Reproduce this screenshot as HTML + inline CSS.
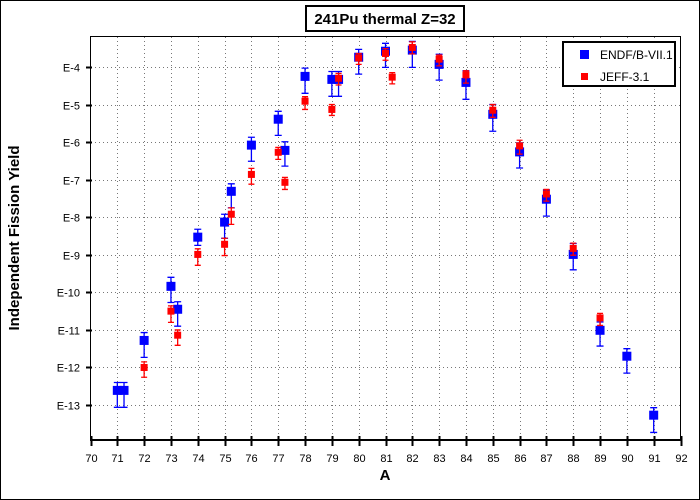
<!DOCTYPE html>
<html><head><meta charset="utf-8"><style>
html,body{margin:0;padding:0;background:#fff}
svg{display:block;font-family:"Liberation Sans",sans-serif}
</style></head><body>
<svg id="chart" width="700" height="500" viewBox="0 0 700 500" xmlns="http://www.w3.org/2000/svg">
<rect x="0.5" y="0.5" width="699" height="499" fill="#fff" stroke="#000"/>
<g id="grid"></g>
<rect x="90.5" y="36.5" width="590" height="403.5" fill="none" stroke="#000" stroke-width="1"/>
<g id="axes"></g>
<g id="marks"></g>
<rect x="306" y="6" width="158" height="25" fill="#fff" stroke="#000" stroke-width="2"/>
<text x="385" y="24" text-anchor="middle" font-size="15" font-weight="bold">241Pu thermal Z=32</text>
<text x="385" y="480" text-anchor="middle" font-size="15" font-weight="bold">A</text>
<text transform="translate(19,238) rotate(-90)" text-anchor="middle" font-size="15" font-weight="bold">Independent Fission Yield</text>
<g>
<rect x="563" y="42" width="112" height="44" fill="#fff" stroke="#000" stroke-width="2"/>
<rect x="580" y="50" width="9" height="9" fill="#0000ff"/>
<text x="600" y="59" font-size="12">ENDF/B-VII.1</text>
<rect x="581" y="73" width="7" height="7" fill="#ff0000"/>
<text x="600" y="81" font-size="12">JEFF-3.1</text>
</g>
</svg>
<script>
const endfA   = [71,71.25,72,73,73.25,74,75,75.25,76,77,77.25,78,79,79.25,80,81,82,83,84,85,86,87,88,89,90,91];
const endfLog = [-12.61,-12.61,-11.28,-9.84,-10.45,-8.53,-8.13,-7.31,-6.08,-5.39,-6.22,-4.25,-4.33,-4.33,-3.74,-3.58,-3.55,-3.93,-4.41,-5.26,-6.26,-7.52,-8.99,-11.01,-11.70,-13.27];
const endfHi  = [-12.40,-12.40,-11.07,-9.60,-10.25,-8.32,-7.92,-7.11,-5.87,-5.18,-5.99,-4.03,-4.12,-4.12,-3.53,-3.37,-3.32,-3.66,-4.10,-5.00,-6.02,-7.27,-8.70,-10.79,-11.50,-13.07];
const endfLo  = [-13.06,-13.06,-11.73,-10.27,-10.90,-8.75,-8.56,-7.75,-6.51,-5.82,-6.64,-4.70,-4.78,-4.78,-4.19,-4.01,-4.01,-4.35,-4.86,-5.71,-6.69,-7.97,-9.40,-11.43,-12.15,-13.73];
const jeffA   = [72,73,73.25,74,75,75.25,76,77,77.25,78,79,79.25,80,81,81.25,82,83,84,85,86,87,88,89];
const jeffLog = [-12.00,-10.50,-11.14,-8.99,-8.72,-7.92,-6.86,-6.27,-7.07,-4.91,-5.13,-4.30,-3.76,-3.64,-4.27,-3.48,-3.79,-4.21,-5.15,-6.10,-7.38,-8.83,-10.68];
const jeffHi  = [-11.85,-10.36,-11.00,-8.84,-8.56,-7.75,-6.70,-6.14,-6.94,-4.79,-5.00,-4.17,-3.64,-3.51,-4.15,-3.33,-3.68,-4.10,-5.00,-5.95,-7.26,-8.69,-10.56];
const jeffLo  = [-12.26,-10.80,-11.41,-9.28,-9.02,-8.19,-7.12,-6.46,-7.26,-5.13,-5.29,-4.48,-3.93,-3.82,-4.45,-3.65,-3.97,-4.43,-5.34,-6.32,-7.57,-9.01,-10.88];
const xTicks  = [70,71,72,73,74,75,76,77,78,79,80,81,82,83,84,85,86,87,88,89,90,91,92];
const yTicks  = [-4,-5,-6,-7,-8,-9,-10,-11,-12,-13];

const NS="http://www.w3.org/2000/svg";
function X(a){return 90.5+(a-70)*(590/22);}
function Y(l){return 67+(-4-l)*37.56;}
function mk(tag,at,parent){const e=document.createElementNS(NS,tag);for(const k in at)e.setAttribute(k,at[k]);parent.appendChild(e);return e;}
const grid=document.getElementById('grid'),axes=document.getElementById('axes'),marks=document.getElementById('marks');

xTicks.forEach(t=>{
  const x=Math.round(X(t))+0.5;
  if(t>70&&t<92){const g=mk('line',{x1:x,x2:x,y1:37,y2:440,stroke:'#777','stroke-dasharray':'1,3'},grid);
    
    }
  const tk=mk('line',{x1:x,x2:x,y1:436,y2:446,stroke:'#000','stroke-width':2},axes);
  
  
  const lb=mk('text',{x:x,y:462,'text-anchor':'middle','font-size':11},axes);
  lb.textContent=t;
  
  
});
mk('line',{x1:90,x2:681,y1:440,y2:440,stroke:'#000','stroke-width':2},axes);
yTicks.forEach(t=>{
  const y=Math.round(Y(t))+0.5;
  const g=mk('line',{x1:91,x2:680,y1:y,y2:y,stroke:'#777','stroke-dasharray':'1,3'},grid);
  
  
  const tk=mk('line',{x1:86,x2:92,y1:y,y2:y,stroke:'#000','stroke-width':2},axes);
  
  
  const lb=mk('text',{x:80,y:y+4,'text-anchor':'end','font-size':11},axes);
  lb.textContent='E'+t;
  
  
});

function series(As,L,H,Lo,color,size,cap,name){
  const g=mk('g',{},marks);
  
  
  As.forEach((a,i)=>{
    const x=X(a),y=Y(L[i]),yh=Y(H[i]),yl=Y(Lo[i]);
    const eb=mk('path',{d:`M${x},${yh}V${yl}M${x-cap},${yh}H${x+cap}M${x-cap},${yl}H${x+cap}`,stroke:color,'stroke-width':1.3,fill:'none'},g);
    
    
    const r=mk('rect',{x:x-size/2,y:y-size/2,width:size,height:size,fill:color},g);
    
    
  });
}
series(endfA,endfLog,endfHi,endfLo,'#0000ff',9,3.5,'endf');
series(jeffA,jeffLog,jeffHi,jeffLo,'#ff0000',7,3,'jeff');
</script>
</body></html>
